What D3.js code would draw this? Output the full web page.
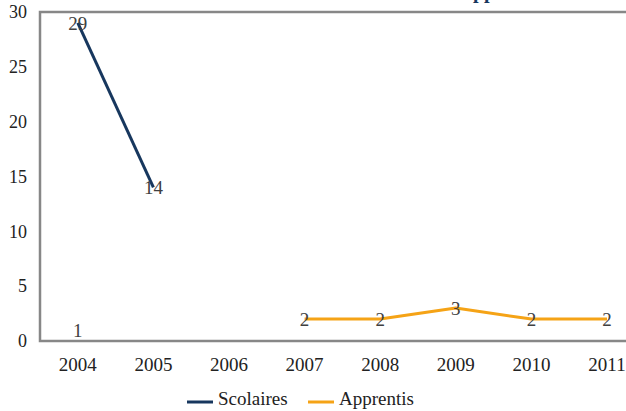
<!DOCTYPE html>
<html><head><meta charset="utf-8">
<script src="https://cdn.jsdelivr.net/npm/d3@7"></script>
<style>html,body{margin:0;padding:0;background:#fff;overflow:hidden}</style>
</head><body>
<svg id="c" width="626" height="411"></svg>
<script>
const years = ["2004","2005","2006","2007","2008","2009","2010","2011"];
const scolaires = [29, 14, null, null, null, null, null, null];
const apprentis = [1, null, null, 2, 2, 3, 2, 2];
const yTicks = [0, 5, 10, 15, 20, 25, 30];
const seriesNames = ["Scolaires", "Apprentis"];
const seriesColors = ["#17375E", "#F5A316"];
const titleText = "Scolaires et Apprentis";

(function () {
const svg = d3.select("#c");
const font = "'Liberation Serif', 'DejaVu Serif', 'Times New Roman', Times, serif";
const plotLeft = 40, plotTop = 12, plotBottom = 341, bandW = 75.6;
const x = d3.scaleBand().domain(years).range([plotLeft, plotLeft + bandW * years.length]);
const y = d3.scaleLinear().domain([0, 30]).range([plotBottom, plotTop]);
const cx = d => x(d) + x.bandwidth() / 2;

// title (mostly cut off at top, as in the source image)
const tmp = svg.append("text").style("font-family", font).style("font-size", "20px").style("font-weight", "bold").text("Scolaires et A");
const pre = tmp.node().getComputedTextLength();
tmp.remove();
svg.append("text").attr("x", 473 - pre).attr("y", -2)
  .style("font-family", font).style("font-size", "20px").style("font-weight", "bold")
  .attr("fill", "#17375E").text(titleText);

// frame
svg.append("rect").attr("x", plotLeft).attr("y", plotTop).attr("width", x.range()[1] - plotLeft).attr("height", plotBottom - plotTop)
  .attr("fill", "none").attr("stroke", "#878787").attr("stroke-width", 2.5);

// y axis labels
const yAxis = d3.axisLeft(y).tickValues(yTicks).tickSize(0).tickPadding(13);
const ya = svg.append("g").attr("transform", `translate(${plotLeft},0)`).call(yAxis);
ya.attr("font-family", null).attr("font-size", null);
ya.select(".domain").remove();
ya.selectAll("text").style("font-family", font).style("font-size", "18px").attr("fill", "#222");

// x axis labels
const xAxis = d3.axisBottom(x).tickSize(0).tickPadding(17);
const xa = svg.append("g").attr("transform", `translate(0,${plotBottom})`).call(xAxis);
xa.attr("font-family", null).attr("font-size", null);
xa.select(".domain").remove();
xa.selectAll("text").style("font-family", font).style("font-size", "19px").attr("fill", "#222");

const data = [scolaires, apprentis];
const line = d3.line().defined(d => d.v !== null).x(d => cx(d.k)).y(d => y(d.v));
data.forEach((vals, i) => {
  const pts = years.map((k, j) => ({k, v: vals[j]}));
  svg.append("path").datum(pts).attr("d", line).attr("fill", "none")
    .attr("stroke", seriesColors[i]).attr("stroke-width", 3).attr("stroke-linejoin", "round");
});
data.forEach((vals, i) => {
  const pts = years.map((k, j) => ({k, v: vals[j]})).filter(d => d.v !== null);
  svg.append("g").selectAll("text").data(pts).join("text")
    .attr("x", d => cx(d.k)).attr("y", d => y(d.v)).attr("dy", "0.35em")
    .attr("text-anchor", "middle").style("font-family", font).style("font-size", "19px")
    .attr("fill", "#404040").text(d => d.v);
});

// legend
const legX = [187, 308];
seriesNames.forEach((n, i) => {
  svg.append("line").attr("x1", legX[i]).attr("x2", legX[i] + 26).attr("y1", 402).attr("y2", 402)
    .attr("stroke", seriesColors[i]).attr("stroke-width", 3);
  svg.append("text").attr("x", legX[i] + 31).attr("y", 405)
    .style("font-family", font).style("font-size", "19px").attr("fill", "#222").text(n);
});
})();
</script>
</body></html>
